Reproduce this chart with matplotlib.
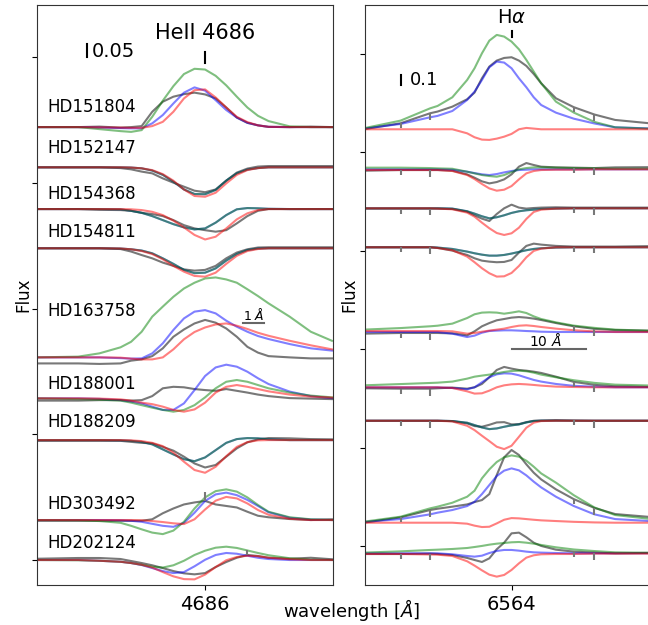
import matplotlib.pyplot as plt
import numpy as np

stars = ['HD151804', 'HD152147', 'HD154368', 'HD154811', 'HD163758',
         'HD188001', 'HD188209', 'HD303492', 'HD202124']

# ---------------- HeII 4686 panel ----------------
wl_heii = [4678, 4680, 4681, 4682, 4682.5, 4683, 4683.5, 4684, 4684.5, 4685, 4685.5,
           4686, 4686.5, 4687, 4687.5, 4688, 4688.5, 4689, 4690, 4691, 4692]
heii_offset = [1.722, 1.562, 1.396, 1.240, 0.806, 0.643, 0.477, 0.159, 0.0]
heii_label_y = [2.802, 2.639, 2.456, 2.305, 1.990, 1.700, 1.549, 1.223, 1.068]

# single-pixel spikes in two observed HeII spectra
spike_star = [7, 8]
spike_wl = [4686, 4688]
spike_height = [0.035, 0.02]

heii_obs = [
    [0, 0, 0.002, -0.002, 0, 0.004, 0.061, 0.101, 0.121, 0.131, 0.137, 0.130, 0.114, 0.078, 0.038, 0.017, 0.007, 0.001, 0, 0.002, 0],
    [0, 0, 0, -0.003, -0.008, -0.017, -0.024, -0.044, -0.061, -0.077, -0.093, -0.099, -0.088, -0.053, -0.021, -0.005, 0.003, 0.005, 0.005, 0.005, 0.005],
    [0, 0, -0.003, -0.004, -0.007, -0.015, -0.020, -0.028, -0.044, -0.064, -0.077, -0.084, -0.090, -0.084, -0.057, -0.028, -0.007, 0, 0, 0, 0],
    [0, 0, 0, -0.003, -0.013, -0.027, -0.040, -0.057, -0.070, -0.084, -0.089, -0.086, -0.070, -0.040, -0.017, -0.004, 0.003, 0.004, 0.004, 0.004, 0.004],
    [-0.024, -0.024, -0.026, -0.024, -0.013, -0.008, 0.005, 0.036, 0.082, 0.111, 0.135, 0.149, 0.138, 0.115, 0.082, 0.042, 0.019, 0.005, 0, -0.004, -0.004],
    [-0.009, -0.009, -0.007, -0.007, -0.009, -0.007, 0.009, 0.040, 0.046, 0.044, 0.037, 0.033, 0.030, 0.037, 0.030, 0.023, 0.015, 0.009, 0.001, -0.001, -0.003],
    [-0.003, -0.003, -0.003, -0.003, -0.007, -0.011, -0.013, -0.027, -0.042, -0.066, -0.093, -0.109, -0.099, -0.066, -0.033, -0.009, 0.003, 0.008, 0.007, 0.004, 0.003],
    [-0.003, -0.003, -0.003, -0.003, -0.003, -0.003, 0.003, 0.027, 0.046, 0.062, 0.070, 0.076, 0.062, 0.056, 0.050, 0.033, 0.017, 0.011, 0.004, 0, 0.003],
    [0.005, 0.008, 0.008, 0.004, -0.004, -0.012, -0.021, -0.032, -0.044, -0.053, -0.057, -0.052, -0.028, -0.008, 0.009, 0.020, 0.016, 0.009, 0.005, 0.009, 0.003],
]
heii_green = [
    [0, 0, -0.008, -0.016, -0.019, -0.012, 0.041, 0.105, 0.163, 0.211, 0.232, 0.229, 0.204, 0.166, 0.121, 0.078, 0.045, 0.024, 0.003, 0, 0],
    [0, 0, 0, 0, -0.001, -0.004, -0.013, -0.030, -0.057, -0.088, -0.106, -0.107, -0.090, -0.053, -0.024, -0.009, -0.003, 0, 0, 0, 0],
    [0, 0, 0, -0.001, -0.007, -0.015, -0.028, -0.044, -0.060, -0.073, -0.081, -0.077, -0.054, -0.024, -0.001, 0.004, 0.003, 0.001, 0, 0, 0],
    [0, 0, 0, -0.001, -0.004, -0.009, -0.020, -0.040, -0.062, -0.086, -0.099, -0.097, -0.080, -0.049, -0.023, -0.007, -0.001, 0, 0, 0, 0],
    [0, 0.003, 0.016, 0.040, 0.062, 0.102, 0.162, 0.202, 0.241, 0.274, 0.297, 0.314, 0.318, 0.310, 0.297, 0.271, 0.244, 0.215, 0.162, 0.102, 0.066],
    [0, -0.003, -0.005, -0.009, -0.017, -0.027, -0.037, -0.046, -0.053, -0.046, -0.027, 0.004, 0.040, 0.066, 0.073, 0.066, 0.053, 0.040, 0.023, 0.011, 0.004],
    [0, 0, 0, -0.001, -0.003, -0.007, -0.017, -0.037, -0.057, -0.076, -0.084, -0.069, -0.040, -0.011, 0.004, 0.008, 0.007, 0.003, 0, 0, 0],
    [0, -0.001, -0.004, -0.011, -0.023, -0.037, -0.050, -0.056, -0.042, -0.007, 0.046, 0.090, 0.115, 0.122, 0.113, 0.090, 0.060, 0.033, 0.011, 0.003, 0],
    [0, -0.001, -0.003, -0.007, -0.012, -0.019, -0.027, -0.030, -0.021, -0.003, 0.020, 0.037, 0.049, 0.053, 0.048, 0.038, 0.028, 0.019, 0.007, 0.001, 0],
]
heii_blue = [
    [0, 0, -0.002, -0.004, -0.005, -0.005, 0.015, 0.048, 0.094, 0.137, 0.158, 0.145, 0.107, 0.068, 0.038, 0.017, 0.007, 0.001, 0, 0, 0],
    [0, 0, 0, 0, -0.001, -0.004, -0.013, -0.030, -0.057, -0.088, -0.106, -0.107, -0.090, -0.053, -0.024, -0.009, -0.003, 0, 0, 0, 0],
    [0, 0, 0, -0.001, -0.007, -0.015, -0.028, -0.044, -0.060, -0.073, -0.081, -0.077, -0.054, -0.024, -0.001, 0.004, 0.003, 0.001, 0, 0, 0],
    [0, 0, 0, -0.001, -0.004, -0.009, -0.020, -0.040, -0.062, -0.086, -0.099, -0.097, -0.080, -0.049, -0.023, -0.007, -0.001, 0, 0, 0, 0],
    [0, 0, 0, -0.003, -0.005, -0.004, 0.016, 0.056, 0.109, 0.155, 0.182, 0.188, 0.175, 0.146, 0.122, 0.102, 0.085, 0.073, 0.053, 0.036, 0.027],
    [0, 0, -0.002, -0.007, -0.013, -0.020, -0.033, -0.046, -0.046, -0.020, 0.033, 0.089, 0.123, 0.134, 0.126, 0.106, 0.080, 0.057, 0.027, 0.009, 0.001],
    [0, 0, 0, -0.001, -0.003, -0.007, -0.017, -0.037, -0.057, -0.076, -0.084, -0.069, -0.040, -0.011, 0.004, 0.008, 0.007, 0.003, 0, 0, 0],
    [0, 0, 0, -0.001, -0.003, -0.007, -0.015, -0.023, -0.027, -0.011, 0.029, 0.076, 0.102, 0.109, 0.099, 0.080, 0.056, 0.031, 0.009, 0.002, 0],
    [0, 0, -0.003, -0.007, -0.012, -0.020, -0.032, -0.044, -0.052, -0.048, -0.025, 0.001, 0.020, 0.028, 0.025, 0.017, 0.009, 0.004, 0, 0, 0],
]
heii_red = [
    [0, 0, -0.001, -0.002, -0.003, -0.003, 0.004, 0.021, 0.061, 0.114, 0.147, 0.150, 0.118, 0.078, 0.041, 0.020, 0.007, 0.001, 0, 0, 0],
    [0, 0, 0, 0, -0.001, -0.004, -0.011, -0.027, -0.053, -0.088, -0.114, -0.117, -0.101, -0.064, -0.030, -0.011, -0.003, 0, 0, 0, 0],
    [0, 0, 0, 0, -0.001, -0.004, -0.011, -0.024, -0.046, -0.073, -0.103, -0.121, -0.110, -0.077, -0.041, -0.017, -0.004, 0, 0, 0, 0],
    [0, 0, 0, -0.001, -0.004, -0.011, -0.023, -0.044, -0.070, -0.093, -0.110, -0.113, -0.097, -0.062, -0.030, -0.011, -0.003, 0, 0, 0, 0],
    [0, 0, 0, -0.001, -0.005, -0.008, -0.008, 0, 0.032, 0.072, 0.101, 0.119, 0.131, 0.135, 0.126, 0.113, 0.098, 0.086, 0.066, 0.048, 0.032],
    [0, 0, -0.001, -0.004, -0.009, -0.017, -0.023, -0.033, -0.046, -0.053, -0.044, -0.017, 0.023, 0.046, 0.053, 0.046, 0.037, 0.028, 0.015, 0.007, 0.003],
    [0, 0, 0, 0, -0.001, -0.004, -0.011, -0.024, -0.050, -0.086, -0.119, -0.130, -0.106, -0.064, -0.027, -0.008, -0.001, 0, 0, 0, 0],
    [0, 0, 0, 0, 0, -0.001, -0.004, -0.008, -0.013, -0.016, 0.003, 0.042, 0.077, 0.092, 0.086, 0.066, 0.040, 0.021, 0.005, 0, 0],
    [0, 0, -0.003, -0.007, -0.012, -0.019, -0.030, -0.048, -0.065, -0.076, -0.077, -0.058, -0.028, -0.001, 0.012, 0.017, 0.015, 0.009, 0.003, 0, 0],
]

# ---------------- H-alpha panel ----------------
wl_ha = [6544, 6549, 6553, 6554, 6556, 6558, 6559, 6560, 6561, 6562, 6563,
         6564, 6565, 6566, 6567, 6568, 6570, 6572.4, 6575.2, 6578, 6585]
ha_offset = [4.235, 3.831, 3.432, 3.036, 2.175, 1.613, 1.273, 0.237, -0.074]

# narrow telluric dips seen in every observed H-alpha spectrum
telluric_wl = [6549, 6553, 6572.4, 6575.2]
telluric_depth = [0.05, 0.07, 0.05, 0.07]

ha_obs = [
    [0, 0.061, 0.163, 0.180, 0.230, 0.305, 0.373, 0.518, 0.637, 0.698, 0.725, 0.732, 0.698, 0.644, 0.562, 0.468, 0.315, 0.225, 0.150, 0.095, 0.044],
    [-0.017, -0.010, -0.010, -0.010, -0.017, -0.054, -0.088, -0.125, -0.146, -0.132, -0.105, -0.054, 0.024, 0.061, 0.041, 0.024, 0.017, 0.014, 0.010, 0.017, 0.020],
    [-0.003, -0.003, -0.003, -0.003, -0.007, -0.034, -0.071, -0.105, -0.129, -0.058, 0, 0.037, 0.007, -0.003, 0.003, 0.007, 0.010, 0.007, 0.007, 0.007, 0.007],
    [0, 0, 0, -0.007, -0.034, -0.078, -0.112, -0.136, -0.146, -0.152, -0.149, -0.129, -0.054, 0.014, 0.037, 0.027, 0.014, 0.007, 0.007, 0.007, 0.014],
    [-0.017, -0.010, -0.010, -0.010, -0.014, -0.034, 0.007, 0.058, 0.091, 0.119, 0.132, 0.146, 0.152, 0.146, 0.136, 0.122, 0.091, 0.058, 0.032, 0.020, 0.010],
    [-0.010, -0.014, -0.014, -0.010, -0.003, -0.014, 0, 0.034, 0.102, 0.176, 0.207, 0.190, 0.176, 0.169, 0.159, 0.146, 0.108, 0.055, 0.025, 0.010, 0],
    [0, 0, 0, 0, -0.003, -0.027, -0.054, -0.061, -0.041, -0.017, -0.014, -0.037, -0.034, -0.014, 0, 0.003, 0.007, 0.003, 0, 0, 0],
    [0, 0.054, 0.129, 0.142, 0.163, 0.186, 0.210, 0.230, 0.291, 0.484, 0.664, 0.739, 0.688, 0.593, 0.508, 0.440, 0.339, 0.240, 0.150, 0.088, 0.044],
    [-0.007, -0.007, -0.003, -0.007, -0.017, -0.047, -0.068, -0.088, -0.051, 0.041, 0.108, 0.203, 0.210, 0.163, 0.108, 0.075, 0.037, 0.017, 0.007, 0, 0.007],
]
ha_green = [
    [0.010, 0.088, 0.213, 0.237, 0.325, 0.501, 0.620, 0.772, 0.901, 0.959, 0.942, 0.891, 0.813, 0.705, 0.586, 0.468, 0.281, 0.170, 0.075, 0.020, 0],
    [0.014, 0.014, 0.010, 0.007, 0.003, -0.027, -0.044, -0.061, -0.071, -0.078, -0.061, -0.030, -0.003, 0.010, 0.017, 0.017, 0.014, 0.010, 0.007, 0.003, 0.003],
    [0, 0, 0, 0, -0.003, -0.030, -0.054, -0.081, -0.102, -0.091, -0.071, -0.047, -0.030, -0.020, -0.014, -0.007, -0.003, 0, 0, 0, 0],
    [0, 0, 0, -0.003, -0.017, -0.044, -0.061, -0.075, -0.085, -0.085, -0.078, -0.064, -0.047, -0.030, -0.017, -0.010, -0.003, 0, 0, 0, 0],
    [0.024, 0.040, 0.058, 0.064, 0.085, 0.142, 0.180, 0.197, 0.200, 0.197, 0.186, 0.197, 0.210, 0.193, 0.159, 0.132, 0.098, 0.065, 0.042, 0.024, 0.007],
    [0.020, 0.033, 0.044, 0.047, 0.058, 0.088, 0.108, 0.119, 0.129, 0.142, 0.156, 0.166, 0.169, 0.163, 0.149, 0.129, 0.102, 0.072, 0.045, 0.027, 0.014],
    [0, 0, 0, 0, -0.003, -0.020, -0.044, -0.068, -0.085, -0.078, -0.061, -0.047, -0.037, -0.017, -0.003, 0, 0, 0, 0, 0, 0],
    [0.010, 0.061, 0.146, 0.163, 0.203, 0.264, 0.325, 0.451, 0.542, 0.617, 0.664, 0.684, 0.671, 0.630, 0.569, 0.501, 0.407, 0.280, 0.155, 0.078, 0.020],
    [0.007, 0.020, 0.034, 0.037, 0.044, 0.054, 0.064, 0.075, 0.088, 0.098, 0.105, 0.112, 0.115, 0.108, 0.098, 0.085, 0.061, 0.039, 0.023, 0.010, 0.003],
]
ha_blue = [
    [0.007, 0.054, 0.122, 0.136, 0.186, 0.298, 0.383, 0.501, 0.630, 0.688, 0.678, 0.620, 0.518, 0.427, 0.325, 0.247, 0.169, 0.108, 0.059, 0.020, 0.003],
    [-0.003, -0.003, -0.003, -0.003, -0.007, -0.027, -0.041, -0.054, -0.061, -0.051, -0.034, -0.020, -0.010, -0.007, -0.003, -0.003, -0.003, -0.003, -0.003, -0.003, -0.003],
    [0, 0, 0, 0, -0.003, -0.030, -0.054, -0.081, -0.102, -0.091, -0.071, -0.047, -0.030, -0.020, -0.014, -0.007, -0.003, 0, 0, 0, 0],
    [0, 0, 0, -0.003, -0.017, -0.044, -0.061, -0.075, -0.085, -0.085, -0.078, -0.064, -0.047, -0.030, -0.017, -0.010, -0.003, 0, 0, 0, 0],
    [0, 0, 0, 0, -0.017, -0.051, -0.037, -0.007, 0.010, 0.014, 0.017, 0.017, 0.014, 0.010, 0.007, 0.003, 0, 0, 0, 0, 0],
    [0, 0, 0, 0, -0.007, -0.020, 0, 0.051, 0.102, 0.132, 0.142, 0.139, 0.122, 0.098, 0.075, 0.058, 0.034, 0.015, 0.006, 0, 0],
    [0, 0, 0, 0, -0.003, -0.020, -0.044, -0.068, -0.085, -0.078, -0.061, -0.047, -0.037, -0.017, -0.003, 0, 0, 0, 0, 0, 0],
    [0.007, 0.037, 0.085, 0.102, 0.129, 0.169, 0.213, 0.291, 0.383, 0.474, 0.529, 0.552, 0.532, 0.481, 0.417, 0.359, 0.264, 0.170, 0.085, 0.037, 0.007],
    [0, 0, 0, 0, -0.010, -0.027, -0.034, -0.024, 0.003, 0.024, 0.034, 0.034, 0.027, 0.017, 0.010, 0.007, 0.003, 0, 0, 0, 0],
]
ha_red = [
    [0, 0, 0, 0, 0, -0.041, -0.081, -0.105, -0.108, -0.095, -0.075, -0.047, 0, 0.014, 0.007, 0, 0, 0, 0, 0, 0],
    [-0.010, -0.010, -0.010, -0.010, -0.020, -0.061, -0.102, -0.152, -0.197, -0.220, -0.210, -0.173, -0.105, -0.044, -0.020, -0.010, -0.007, -0.007, -0.003, -0.003, -0.003],
    [0, 0, 0, -0.003, -0.010, -0.044, -0.085, -0.146, -0.203, -0.251, -0.271, -0.254, -0.197, -0.108, -0.037, -0.014, -0.003, 0, 0, 0, 0],
    [0, 0, 0, -0.007, -0.030, -0.095, -0.152, -0.213, -0.264, -0.298, -0.295, -0.261, -0.190, -0.102, -0.037, -0.014, 0, 0, 0, 0, 0],
    [0.010, 0.010, 0.010, 0.010, 0.007, -0.017, -0.010, 0.003, 0.014, 0.024, 0.034, 0.051, 0.064, 0.068, 0.061, 0.051, 0.034, 0.018, 0.006, 0, 0],
    [0, 0, 0, 0, -0.007, -0.041, -0.064, -0.061, -0.034, 0, 0.020, 0.030, 0.034, 0.030, 0.024, 0.017, 0.007, 0.003, 0, 0, 0],
    [0, 0, 0, 0, -0.007, -0.051, -0.095, -0.152, -0.207, -0.264, -0.288, -0.254, -0.163, -0.071, -0.020, -0.003, 0, 0, 0, 0, 0],
    [0, 0, 0, 0, 0, -0.010, -0.030, -0.044, -0.041, -0.007, 0.030, 0.047, 0.044, 0.037, 0.030, 0.024, 0.017, 0.009, 0.003, 0, 0],
    [-0.007, -0.007, -0.012, -0.014, -0.027, -0.081, -0.125, -0.173, -0.217, -0.237, -0.220, -0.169, -0.102, -0.044, -0.020, -0.010, -0.007, -0.007, -0.003, -0.003, -0.003],
]

OBS_COLOR = '0.47'


def draw_panel(ax, wl, offsets, obs, green, blue, red):
    wl = np.array(wl)
    for i in range(len(offsets)):
        base = 1.0 + offsets[i]
        ax.plot(wl, base + np.array(obs[i]), color=OBS_COLOR, lw=1.5)
        ax.plot(wl, base + np.array(blue[i]), color='b', alpha=0.5, lw=1.5)
        ax.plot(wl, base + np.array(green[i]), color='g', alpha=0.5, lw=1.5)
        ax.plot(wl, base + np.array(red[i]), color='r', alpha=0.5, lw=1.5)


fig = plt.figure(figsize=(6.48, 6.25), dpi=100)
ax1 = fig.add_axes([0.0571, 0.064, 0.4568, 0.928])
ax2 = fig.add_axes([0.5633, 0.064, 0.4568, 0.928])

draw_panel(ax1, wl_heii, heii_offset, heii_obs, heii_green, heii_blue, heii_red)
draw_panel(ax2, wl_ha, ha_offset, ha_obs, ha_green, ha_blue, ha_red)

# spikes on two HeII spectra
for s, w, h in zip(spike_star, spike_wl, spike_height):
    top = 1.0 + heii_offset[s] + heii_obs[s][wl_heii.index(w)]
    ax1.vlines(w, top, top + h, color=OBS_COLOR, lw=1.5)

# telluric dips on the observed H-alpha spectra
for i in range(len(ha_offset)):
    for t, d in zip(telluric_wl, telluric_depth):
        top = 1.0 + ha_offset[i] + ha_obs[i][wl_ha.index(t)]
        ax2.vlines(t, top - d, top, color=OBS_COLOR, lw=1.5)

for name, y in zip(stars, heii_label_y):
    ax1.text(4678.55, y, name, fontsize=12, va='center', ha='left')

# HeII annotations
ax1.text(4686, 3.072, 'HeII 4686', fontsize=15, ha='center', va='baseline')
ax1.plot([4686, 4686], [2.977, 3.021], color='k', lw=1.5)
ax1.plot([4680.42, 4680.42], [3.001, 3.053], color='k', lw=1.5)
ax1.text(4680.62, 3.001, '0.05', fontsize=14, ha='left', va='baseline')
ax1.plot([4687.8, 4688.8], [1.944, 1.944], color='0.4', lw=1.5)
ax1.text(4688.3, 1.955, r'1 $\AA$', fontsize=9, ha='center', va='baseline')

# H-alpha annotations
ax2.text(6564, 6.312, r'H$\alpha$', fontsize=14, ha='center', va='baseline')
ax2.plot([6564.1, 6564.1], [6.176, 6.237], color='k', lw=1.5)
ax2.plot([6549.1, 6549.1], [5.685, 5.79], color='k', lw=1.5)
ax2.text(6550.3, 5.685, '0.1', fontsize=13, ha='left', va='baseline')
ax2.plot([6564, 6574], [3.0, 3.0], color='0.4', lw=1.5)
ax2.text(6568.5, 3.035, r'10 $\AA$', fontsize=10, ha='center', va='baseline')

ax1.set_xlim(4678.05, 4692.05)
ax1.set_ylim(0.9006, 3.2077)
ax1.set_xticks([4686])
ax1.set_yticks([1.0, 1.5, 2.0, 2.5, 3.0])

ax2.set_xlim(6544.2, 6584.2)
ax2.set_ylim(0.604, 6.498)
ax2.set_xticks([6564])
ax2.set_yticks([1, 2, 3, 4, 5, 6])

for ax in (ax1, ax2):
    ax.set_yticklabels([])
    ax.tick_params(axis='x', labelsize=14)
    for sp in ax.spines.values():
        sp.set_color('0.2')

fig.text(23.5 / 648, 0.528, 'Flux', rotation=90, fontsize=12, ha='center', va='center')
fig.text(349 / 648, 0.528, 'Flux', rotation=90, fontsize=12, ha='center', va='center')
fig.text(351.5 / 648, 1 - 610 / 625, r'wavelength [$\AA$]', fontsize=13, ha='center', va='center')

fig.savefig('out.png', dpi=100)
